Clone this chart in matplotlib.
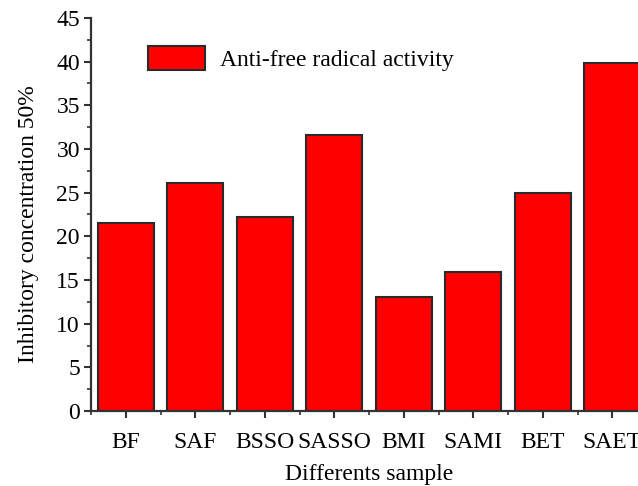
import matplotlib
matplotlib.use("Agg")
import matplotlib.pyplot as plt
from matplotlib.ticker import MultipleLocator, FixedLocator

categories = ["BF", "SAF", "BSSO", "SASSO", "BMI", "SAMI", "BET", "SAET"]
values = [21.5, 26.1, 22.2, 31.6, 13.0, 15.9, 25.0, 39.9]
yticks = [0, 5, 10, 15, 20, 25, 30, 35, 40, 45]

plt.rcParams['font.family'] = ['Liberation Serif', 'DejaVu Serif']
fig = plt.figure(figsize=(6.38, 4.86), dpi=100)
ax = fig.add_axes([91/638, 75/486, 556/638, 393/486])

x = list(range(len(categories)))
ax.bar(x, values, width=0.8, color='#ff0000', edgecolor='#2a2a2a', linewidth=1.5,
       label='Anti-free radical activity')

ax.set_xlim(-0.5, 7.5)
ax.set_ylim(0, 45)
ax.set_yticks(yticks)
ax.yaxis.set_minor_locator(MultipleLocator(2.5))
ax.set_xticks(x)
ax.set_xticklabels(categories)
ax.xaxis.set_minor_locator(FixedLocator([i + 0.5 for i in range(-1, 8)]))

for s in ['top', 'right']:
    ax.spines[s].set_visible(False)
for s in ['left', 'bottom']:
    ax.spines[s].set_linewidth(1.6)
    ax.spines[s].set_color('#333333')

ax.tick_params(axis='both', which='major', direction='out', length=5, width=1.5,
               labelsize=17, color='#333333', pad=3)
ax.tick_params(axis='both', which='minor', direction='out', length=3, width=1.2, color='#333333')
ax.tick_params(axis='x', which='major', pad=10)

ax.set_ylabel('Inhibitory concentration 50%', fontsize=17)
ax.yaxis.set_label_coords(-0.094, 0.475)
ax.set_xlabel('Differents sample', fontsize=17, labelpad=8)

leg = ax.legend(loc='upper left', bbox_to_anchor=(0.232, 0.905), bbox_transform=fig.transFigure,
                frameon=False, fontsize=17, handlelength=2.4, handleheight=1.2,
                handletextpad=0.65, borderaxespad=0, borderpad=0)

fig.savefig('out.png', dpi=100)
